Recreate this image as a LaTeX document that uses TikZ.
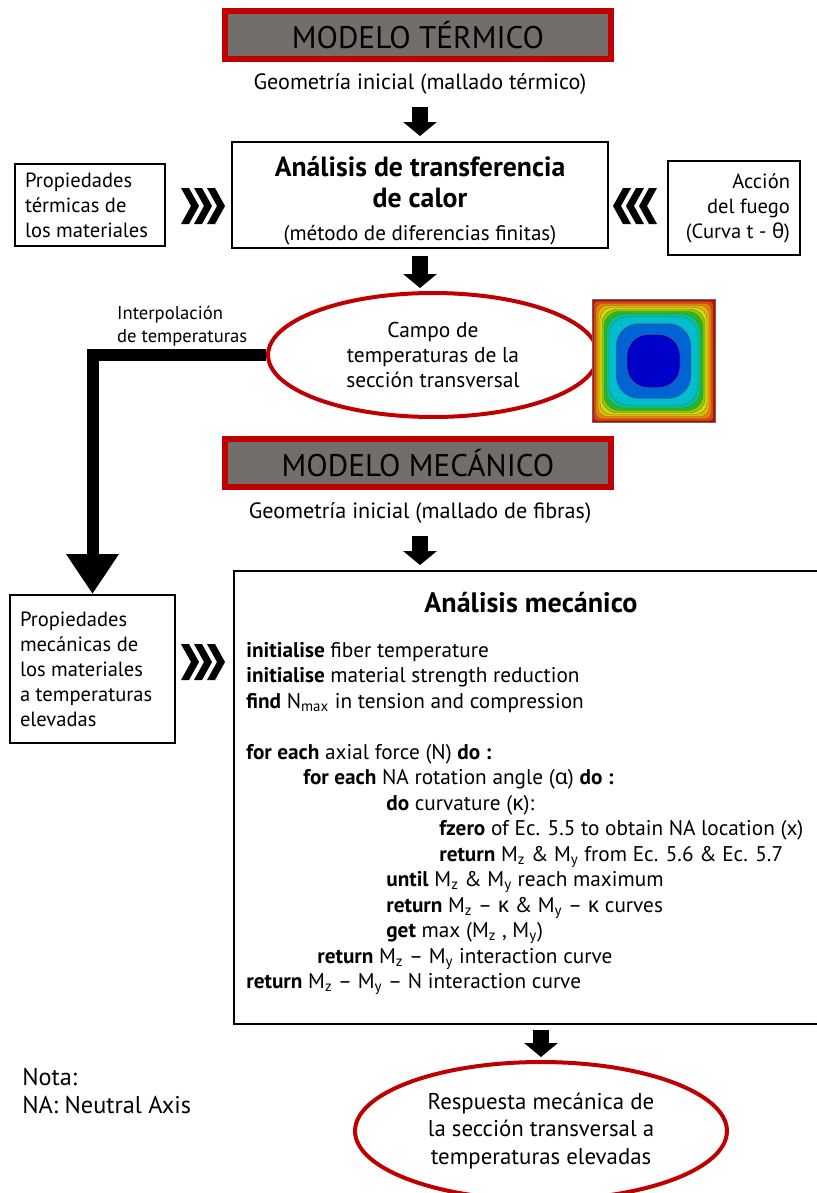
\documentclass[tikz,border=0pt]{standalone}
\usepackage{fontspec}
\setmainfont{PT Sans}
\newfontfamily\greekfont{Noto Sans}
\usetikzlibrary{arrows.meta,shapes.geometric}

\definecolor{firered}{RGB}{192,0,0}
\definecolor{titlegray}{RGB}{115,110,108}
% colour scale of the temperature field
\definecolor{hmA}{RGB}{200,0,0}
\definecolor{hmB}{RGB}{225,70,0}
\definecolor{hmC}{RGB}{235,130,0}
\definecolor{hmD}{RGB}{230,185,0}
\definecolor{hmE}{RGB}{215,220,0}
\definecolor{hmF}{RGB}{140,205,0}
\definecolor{hmG}{RGB}{40,185,30}
\definecolor{hmH}{RGB}{0,200,130}
\definecolor{hmI}{RGB}{0,190,205}
\definecolor{hmJ}{RGB}{0,100,210}
\definecolor{hmK}{RGB}{0,0,200}

\newcommand{\gr}[1]{{\greekfont #1}}

\tikzset{
  chevrons/.pic={
    \foreach \i in {0,13,26}
      \fill (\i,-18) -- ++(8,0) -- ++(10,18) -- ++(-10,18) -- ++(-8,0) -- ++(10,-18) -- cycle;
  }
}

\begin{document}
\begin{tikzpicture}[x=0.02cm, y=-0.02cm,
  every node/.style={font=\fontsize{12.6}{14.2}\selectfont},
  titlebox/.style={draw=firered, line width=0.12cm, fill=titlegray,
    minimum width=7.72cm, minimum height=0.96cm, font=\fontsize{17.8}{20}\selectfont},
  box/.style={draw, line width=0.04cm, inner ysep=0pt},
  sidetext/.style={font=\fontsize{11.7}{14.2}\selectfont},
  redellipse/.style={ellipse, draw=firered, line width=0.08cm, inner sep=0pt, align=center},
  blockarrow/.style={line width=0.32cm, -{Triangle[width=0.66cm,length=0.28cm]}}]
  \useasboundingbox (0,0) rectangle (817,1193);

  % thermal model
  \node[titlebox] (tit1) at (418,35) {MODELO TÉRMICO};
  \node (geo1) at (420,84) {Geometría inicial (mallado térmico)};
  \node[box, minimum width=7.52cm, minimum height=2.12cm] (heat) at (420,195) {};
  \node[align=center, font=\fontsize{15.8}{17.6}\selectfont\bfseries] (heatlbl) at (420,201)
    {Análisis de transferencia\\de calor\\[1pt]{\fontsize{12}{14}\selectfont\mdseries (método de diferencias finitas)}};
  \node[box, sidetext, text width=2.6cm, inner xsep=0.2cm, minimum height=1.64cm, align=flush left] (tprop) at (90,205)
    {Propiedades\\térmicas de\\los materiales};
  \node[box, sidetext, text width=2.24cm, inner xsep=0.2cm, minimum height=1.9cm, align=flush right] (fire) at (734,208)
    {Acción\\del fuego\\(Curva t - \gr{θ})};
  \pic at (181,206) {chevrons};
  \pic[xscale=-1] at (657,206) {chevrons};

  \node[redellipse, minimum width=6.6cm, minimum height=2.48cm, font=\fontsize{12.2}{14.4}\selectfont] (camp) at (433,355)
    {Campo de\\temperaturas de la\\sección transversal};

  % temperature field of the section
  \foreach \h/\r/\c in {61.5/0/hmA, 59.5/2/hmB, 57.5/3.5/hmC, 55.5/5/hmD, 53.5/6.5/hmE, 51.5/8/hmF,
                        49.5/9/hmG, 47/10/hmH, 44.5/11/hmI, 37.5/13/hmJ, 26.5/12/hmK}
    \filldraw[fill=\c, draw=black!60, line width=0.2pt, rounded corners=\r pt]
      (653.5-\h,361-\h) rectangle (653.5+\h,361+\h);

  \node[align=left, anchor=west, font=\fontsize{10.6}{13}\selectfont] (interp) at (111,326)
    {Interpolación\\de temperaturas};

  % mechanical model
  \node[titlebox] (tit2) at (418,463) {MODELO MECÁNICO};
  \node (geo2) at (420,513) {Geometría inicial (mallado de fibras)};
  \node[box, minimum width=11.68cm, minimum height=9.06cm] (mech) at (526,797.5) {};
  \node[font=\fontsize{16}{18}\selectfont\bfseries] (mtitle) at (531,603) {Análisis mecánico};
  \node[align=left, anchor=north west, inner sep=0pt, font=\fontsize{12.1}{14.5}\selectfont] (algo) at (246,642)
    {\textbf{initialise} fiber temperature\\
     \textbf{initialise} material strength reduction\\
     \textbf{find} N\textsubscript{max} in tension and compression\\[14.5pt]
     \textbf{for each} axial force (N) \textbf{do :}\\
     \hspace*{1.14cm}\textbf{for each} NA rotation angle (\gr{α}) \textbf{do :}\\
     \hspace*{2.8cm}\textbf{do} curvature (\gr{κ}):\\
     \hspace*{3.86cm}\textbf{fzero} of Ec. 5.5 to obtain NA location (x)\\
     \hspace*{3.86cm}\textbf{return} M\textsubscript{z} \& M\textsubscript{y} from Ec. 5.6 \& Ec. 5.7\\
     \hspace*{2.8cm}\textbf{until} M\textsubscript{z} \& M\textsubscript{y} reach maximum\\
     \hspace*{2.8cm}\textbf{return} M\textsubscript{z} – \gr{κ} \& M\textsubscript{y} – \gr{κ} curves\\
     \hspace*{2.8cm}\textbf{get} max (M\textsubscript{z} , M\textsubscript{y})\\
     \hspace*{1.42cm}\textbf{return} M\textsubscript{z} – M\textsubscript{y} interaction curve\\
     \textbf{return} M\textsubscript{z} – M\textsubscript{y} – N interaction curve};
  \node[box, sidetext, text width=2.9cm, inner xsep=0.2cm, minimum height=2.96cm, align=flush left] (mprop) at (92.5,669)
    {Propiedades\\mecánicas de\\los materiales\\a temperaturas\\elevadas};
  \pic at (181,662) {chevrons};

  \node[redellipse, minimum width=7.44cm, minimum height=2.76cm, font=\fontsize{13}{15.9}\selectfont] (resp) at (541,1131)
    {Respuesta mecánica de\\la sección transversal a\\temperaturas elevadas};
  \node[align=left, anchor=west, inner sep=0pt, font=\fontsize{13.8}{15.9}\selectfont] (nota) at (22,1091)
    {Nota:\\NA: Neutral Axis};

  % connectors
  \draw[blockarrow, shorten <=0.12cm, shorten >=0.1cm] (geo1) -- (heat);
  \draw[blockarrow, shorten <=0.14cm, shorten >=0.06cm] (heat.south) -- (heat.south |- camp.north);
  \draw[line width=0.24cm, -{Triangle[width=1cm,length=0.8cm]}] (camp.west) -| (mprop.north);
  \draw[blockarrow, shorten <=0.12cm, shorten >=0.1cm] (geo2) -- (geo2 |- mech.north);
  \draw[blockarrow, shorten <=0.1cm, shorten >=0.06cm] (resp.north |- mech.south) -- (resp.north);
\end{tikzpicture}
\end{document}
